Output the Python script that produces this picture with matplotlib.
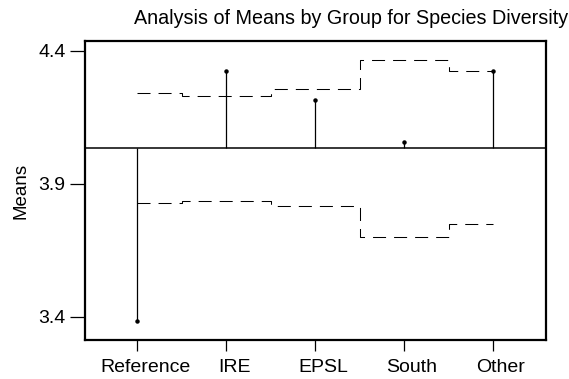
import numpy as np
import matplotlib
matplotlib.use('Agg')
import matplotlib.pyplot as plt
import matplotlib.transforms as mtransforms

plt.rcParams['font.family'] = ['Liberation Sans', 'DejaVu Sans']

groups = ['Reference', 'IRE', 'EPSL', 'South', 'Other']
groupMeans = [3.384, 4.324, 4.214, 4.056, 4.323]
grandMean = 4.033
upperLimit = [4.240, 4.230, 4.255, 4.365, 4.323]
lowerLimit = [3.826, 3.835, 3.816, 3.701, 3.748]
yTicks = [3.4, 3.9, 4.4]


if __name__ == "__main__":
    fig = plt.figure(figsize=(5.69, 3.79), dpi=100)
    ax = fig.add_axes([0.1494, 0.1029, 0.8096, 0.7889])

    x = np.arange(1, len(groups) + 1)

    # center line across the whole plot
    ax.axhline(grandMean, color='black', lw=1.1)

    # decision limits, stepping between groups
    ax.step(x, upperLimit, where='mid', color='black', lw=0.75, dashes=(12.5, 7.7))
    ax.step(x, lowerLimit, where='mid', color='black', lw=0.75, dashes=(12.5, 7.7))

    # group means as spikes from the center line
    ax.vlines(x, grandMean, groupMeans, color='black', lw=0.9)
    ax.plot(x, groupMeans, 'o', color='black', ms=2.2)

    ax.set_xlim(0.412, 5.592)
    ax.set_ylim(3.312, 4.436)
    ax.set_xticks(x)
    ax.set_xticklabels(groups, fontsize=14)
    ax.set_yticks(yTicks)
    ax.set_yticklabels(['%.1f' % t for t in yTicks], fontsize=14)
    ax.tick_params(axis='x', length=8, width=0.9, pad=6)
    ax.tick_params(axis='y', length=11, width=0.9, pad=3)

    shift = mtransforms.ScaledTranslation(8 / 100, 0, fig.dpi_scale_trans)
    for lbl in ax.get_xticklabels():
        lbl.set_transform(lbl.get_transform() + shift)

    for sp in ax.spines.values():
        sp.set_linewidth(1.6)

    ax.set_ylabel('Means', fontsize=13.5, labelpad=6)

    fig.text(568 / 569, 1 - 9 / 379, 'Analysis of Means by Group for Species Diversity',
             ha='right', va='top', fontsize=14.2)

    fig.savefig('out.png', dpi=100)
